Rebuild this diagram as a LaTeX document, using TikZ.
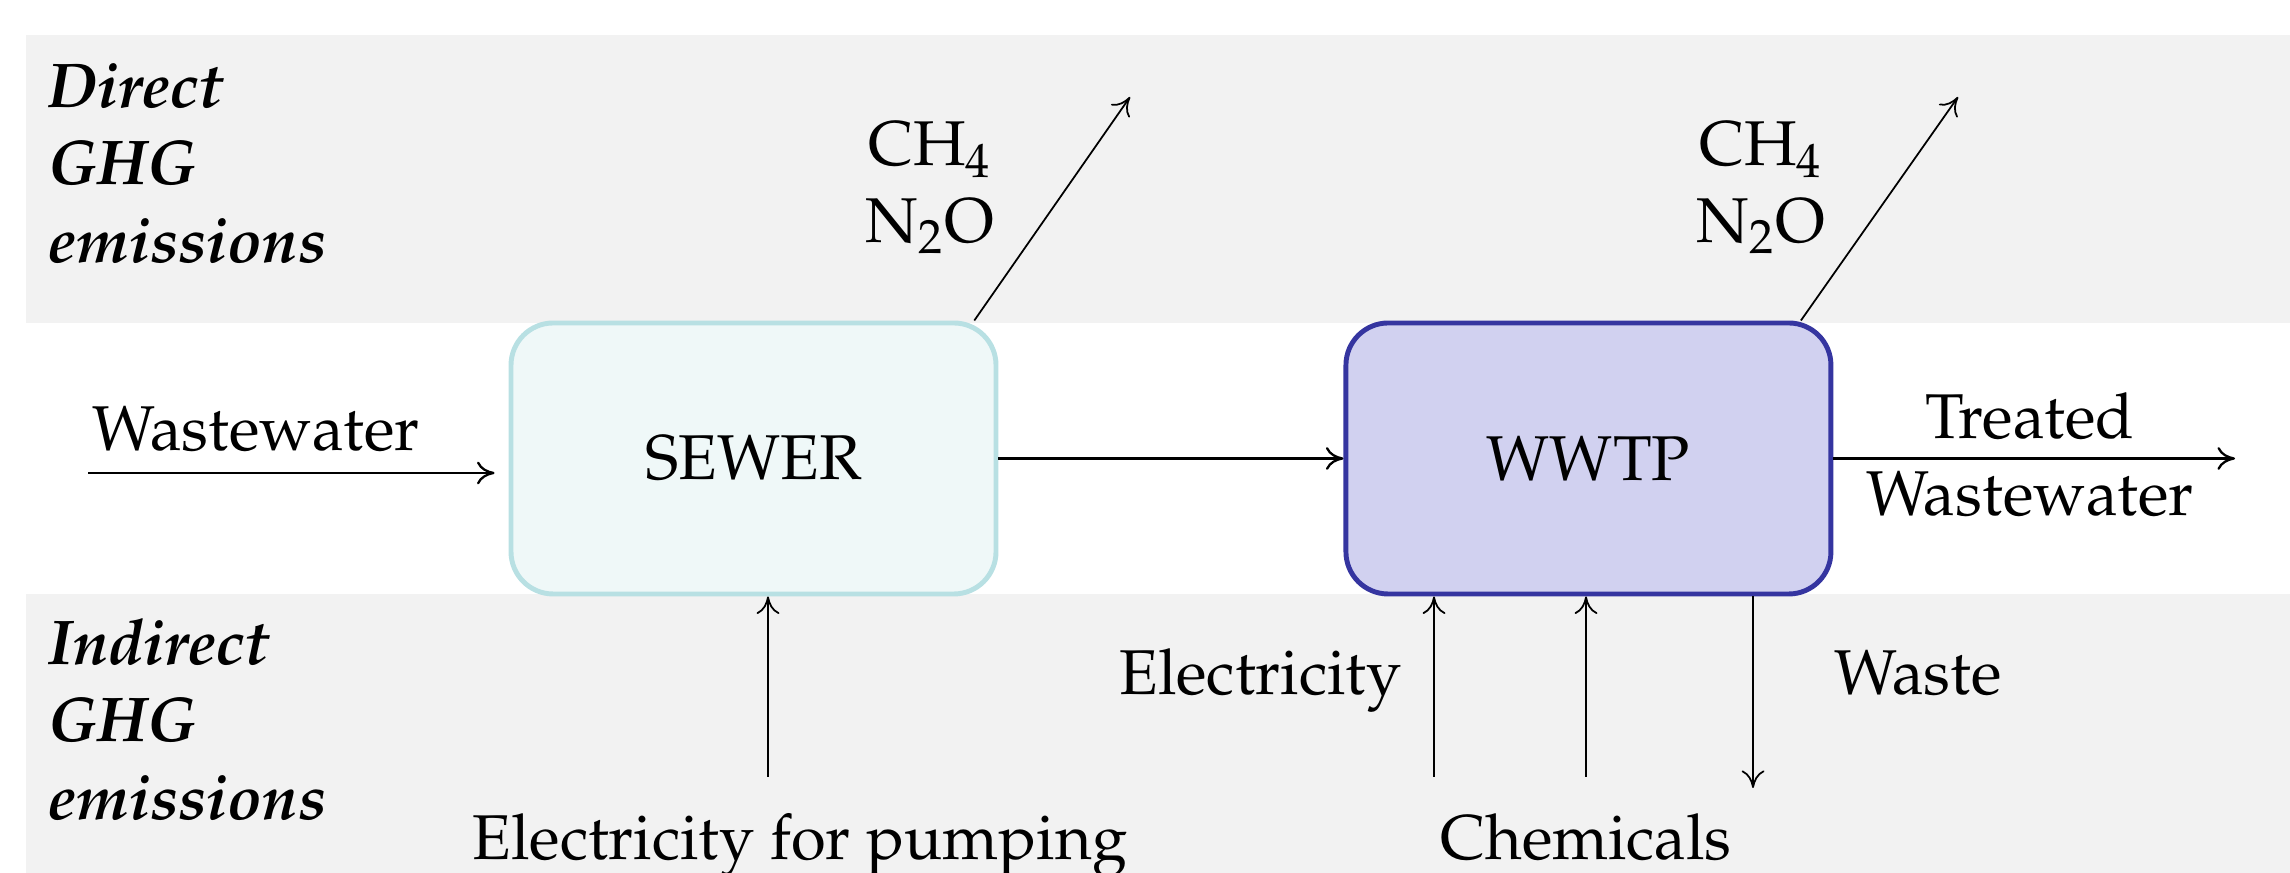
\documentclass[tikz,border=0pt]{standalone}
\usepackage[T1]{fontenc}
\usepackage{mathpazo}
\usetikzlibrary{positioning,arrows.meta}
\definecolor{bandgray}{HTML}{F2F2F2}
\definecolor{sewerfill}{HTML}{EFF8F8}
\definecolor{sewerline}{HTML}{B8E0E3}
\definecolor{wwtpfill}{HTML}{D1D1F0}
\definecolor{wwtpline}{HTML}{3535A0}

\begin{document}
\begin{tikzpicture}[font=\fontsize{18}{22}\selectfont, >={To[length=5pt,width=6.5pt]},
  unit/.style={draw, rounded corners=12pt, line width=1.4pt, minimum width=4.85cm, minimum height=2.71cm},
  lbl/.style={inner sep=0pt, align=center},
  zone/.style={inner sep=0pt, align=left, font=\fontsize{18}{22}\selectfont\bfseries\itshape},
  flow/.style={->, line width=0.65pt},
  side/.style={->, line width=0.5pt}]
\useasboundingbox (0,0) rectangle (22.9,8.73);
% grey bands
\fill[bandgray] (0.26,5.50) rectangle (22.9,8.38);
\fill[bandgray] (0.26,0) rectangle (22.9,2.79);
\node [zone, anchor=north west] (direct) at (0.48,8.11) {Direct\\GHG\\emissions};
\node [zone, anchor=north west] (indirect) at (0.48,2.54) {Indirect\\GHG\\emissions};
% the two units
\node [unit, fill=sewerfill, draw=sewerline] (sewer) at (7.535,4.145) {SEWER};
\node [unit, fill=wwtpfill, draw=wwtpline, right=3.45cm of sewer] (wwtp) {WWTP};
% main flow
\coordinate (wwin) at (0.88,4.00);
\coordinate (twout) at (22.35,4.145);
\draw[flow, shorten >=0.14cm] (wwin) -- (wwin -| sewer.west);
\node [lbl, anchor=base west] (wwlbl) at (0.92,4.22) {Wastewater};
\draw[flow] (sewer) -- (wwtp);
\draw[flow] (wwtp) -- (twout);
\node [lbl, anchor=north] (twlbl) at (20.30,4.81) {Treated\\Wastewater};
% direct emissions
\coordinate (sewem) at (11.30,7.76);
\coordinate (wwtpem) at (19.58,7.76);
\draw[side] (sewer.32) -- (sewem);
\draw[side] (wwtp.33) -- (wwtpem);
\node [lbl, anchor=north] (sewgas) at (9.30,7.52) {CH$_4$\\N$_2$O};
\node [lbl, anchor=north] (wwtpgas) at (17.61,7.52) {CH$_4$\\N$_2$O};
% indirect emissions
\coordinate (pump) at (7.68,0.96);
\coordinate (elec) at (14.34,0.96);
\coordinate (chem) at (15.86,0.96);
\coordinate (waste) at (17.53,0.85);
\draw[side] (pump) -- (pump |- sewer.south);
\draw[side] (elec) -- (elec |- wwtp.south);
\draw[side] (chem) -- (chem |- wwtp.south);
\draw[side] (waste |- wwtp.south) -- (waste);
\node [lbl, anchor=base] (pumplbl) at (8.00,0.13) {Electricity for pumping};
\node [lbl, anchor=base east] (eleclbl) at (14.02,1.78) {Electricity};
\node [lbl, anchor=base] (chemlbl) at (15.86,0.13) {Chemicals};
\node [lbl, anchor=base west] (wastelbl) at (18.34,1.78) {Waste};
\end{tikzpicture}
\end{document}
